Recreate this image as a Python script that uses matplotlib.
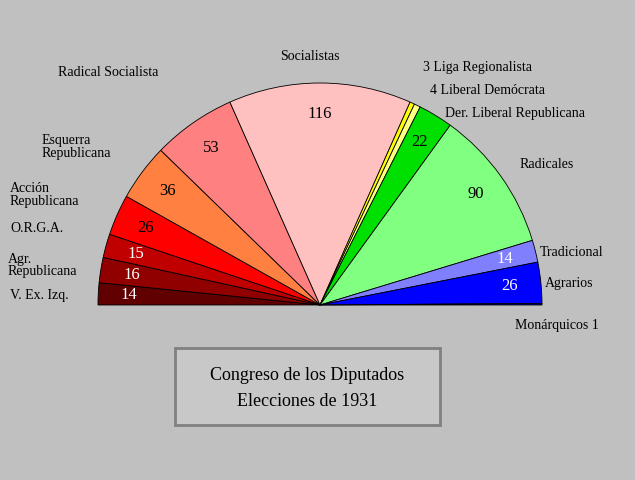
import matplotlib
matplotlib.use("Agg")
import matplotlib.pyplot as plt
import numpy as np
from matplotlib.patches import Rectangle

parties = ["V. Ex. Izq.", "Agr. Republicana", "O.R.G.A.", "Acción Republicana", "Esquerra Republicana",
           "Radical Socialista", "Socialistas", "Liga Regionalista", "Liberal Demócrata",
           "Der. Liberal Republicana", "Radicales", "Tradicional", "Agrarios", "Monárquicos"]
seats = [14, 16, 15, 26, 36, 53, 116, 3, 4, 22, 90, 14, 26, 1]
colors = ["#600000", "#900000", "#c00000", "#ff0000", "#ff8040", "#ff8080", "#ffc0c0",
          "#ffff00", "#ffff80", "#00e000", "#80ff80", "#8080ff", "#0000ff", "#000080"]
show_num = [True]*7 + [False, False, True, True, True, True, False]
num_col = ["white", "white", "white", "black", "black", "black", "black",
           "black", "black", "black", "black", "white", "white", "white"]

plt.rcParams['font.family'] = ['Liberation Serif', 'DejaVu Serif']
fig = plt.figure(figsize=(6.35, 4.8), dpi=100)
fig.patch.set_facecolor("#c0c0c0")
ax = fig.add_axes([0, 0, 1, 1])
ax.set_xlim(0, 635); ax.set_ylim(0, 480); ax.axis("off")
ax.set_facecolor("#c0c0c0")

total = sum(seats)
cx, cy, R = 320, 175, 222
wedges, _ = ax.pie(seats + [total], colors=colors + ["none"], startangle=180, counterclock=False,
                   center=(cx, cy), radius=R, frame=True,
                   wedgeprops=dict(edgecolor="black", linewidth=0.6))
wedges[-1].set_visible(False)
ax.set_xlim(0, 635); ax.set_ylim(0, 480); ax.axis("off")

cum = 0
for s, show, tc in zip(seats, show_num, num_col):
    mid = cum + s/2
    cum += s
    if not show:
        continue
    ang = np.pi - np.pi*mid/total
    r = R*0.86
    ax.text(cx + r*np.cos(ang), cy + r*np.sin(ang), str(s), ha="center", va="center",
            fontsize=12, color=tc)

lab = dict(fontsize=10, color="black")
Y = lambda y: 480 - y
ax.text(10, Y(295), "V. Ex. Izq.", va="center", **lab)
ax.text(8, Y(266), "Agr.\nRepublicana", va="center", linespacing=0.9, **lab)
ax.text(10, Y(229), "O.R.G.A.", va="center", **lab)
ax.text(10, Y(195), "Acción\nRepublicana", va="center", linespacing=0.95, **lab)
ax.text(42, Y(147), "Esquerra\nRepublicana", va="center", linespacing=0.95, **lab)
ax.text(58, Y(72), "Radical Socialista", va="center", **lab)
ax.text(280, Y(56), "Socialistas", va="center", **lab)
ax.text(423, Y(68), "3 Liga Regionalista", va="center", **lab)
ax.text(430, Y(91), "4 Liberal Demócrata", va="center", **lab)
ax.text(445, Y(114), "Der. Liberal Republicana", va="center", **lab)
ax.text(520, Y(165), "Radicales", va="center", **lab)
ax.text(540, Y(253), "Tradicional", va="center", **lab)
ax.text(545, Y(284), "Agrarios", va="center", **lab)
ax.text(515, Y(325), "Monárquicos 1", va="center", **lab)

ax.add_patch(Rectangle((175, Y(425)), 265, 77, facecolor="#c8c8c8", edgecolor="#808080", linewidth=2))
ax.text(307, Y(375), "Congreso de los Diputados", ha="center", va="center", fontsize=13)
ax.text(307, Y(402), "Elecciones de 1931", ha="center", va="center", fontsize=13)

fig.savefig("out.png", dpi=100, facecolor=fig.get_facecolor())
